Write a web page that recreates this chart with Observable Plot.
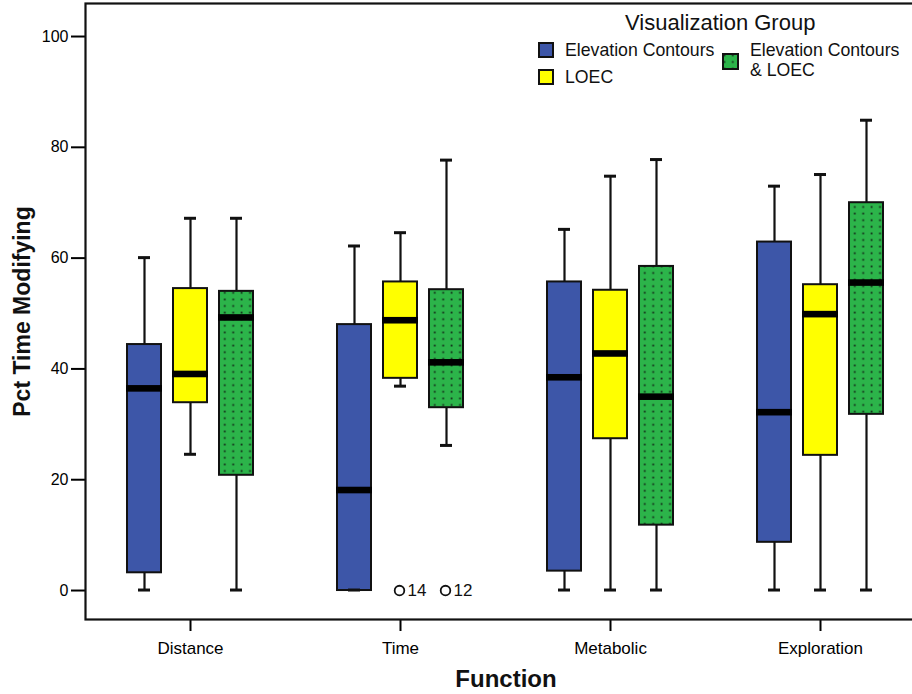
<!DOCTYPE html>
<html>
<head>
<meta charset="utf-8">
<script src="https://cdn.jsdelivr.net/npm/d3@7"></script>
<script src="https://cdn.jsdelivr.net/npm/@observablehq/plot@0.6"></script>
<style>
  html, body { margin: 0; padding: 0; background: white; overflow: hidden; }
  #wrap { position: relative; width: 912px; height: 694px; font-family: "Liberation Sans", Arial, sans-serif; }
  #legend { position: absolute; left: 0; top: 0; width: 912px; height: 100px; pointer-events: none; }
  .lg { position: absolute; color: #111; white-space: nowrap; }
  .sw { position: absolute; box-sizing: border-box; border: 2px solid #111; }
</style>
</head>
<body>
<svg width="0" height="0" style="position:absolute">
  <defs>
    <pattern id="dots" patternUnits="userSpaceOnUse" width="8.4" height="6.6">
      <rect width="8.4" height="6.6" fill="#2cb44a"></rect>
      <rect x="1.5" y="1.5" width="1.8" height="1.8" fill="#14301a"></rect>
    </pattern>
  </defs>
</svg>
<div id="wrap"></div>
<script>
// ---- data ----
const functions = ["Distance", "Time", "Metabolic", "Exploration"];
const groups = ["Elevation Contours", "LOEC", "Elevation Contours & LOEC"];
const groupFills = ["#3d56a8", "#ffff00", "url(#dots)"];
// rows: function; columns: group
const lowerWhisker = [[0, 24.5, 0], [0, 36.8, 26.1], [0, 0, 0], [0, 0, 0]];
const q1 = [[3.2, 33.9, 20.8], [0, 38.3, 33.0], [3.5, 27.4, 11.8], [8.7, 24.4, 31.8]];
const median = [[36.4, 39.0, 49.2], [18.05, 48.7, 41.1], [38.4, 42.7, 34.9], [32.1, 49.8, 55.5]];
const q3 = [[44.4, 54.5, 54.0], [48.0, 55.7, 54.3], [55.7, 54.2, 58.5], [62.9, 55.2, 70.0]];
const upperWhisker = [[60.0, 67.1, 67.1], [62.1, 64.5, 77.6], [65.1, 74.7, 77.7], [72.9, 75.0, 84.8]];
// outliers
const outlierFunction = ["Time", "Time"];
const outlierGroup = ["LOEC", "Elevation Contours & LOEC"];
const outlierValue = [0, 0];
const outlierCase = ["14", "12"];
const yTicks = [0, 20, 40, 60, 80, 100];

// ---- build ----
const groupOffset = 46;
const whiskerMarks = [], boxMarks = [], medianMarks = [], capMarks = [], outlierMarks = [];
groups.forEach((g, gi) => {
  const dx = (gi - 1) * groupOffset;
  const rows = functions.map((f, fi) => ({
    func: f, group: g,
    lo: lowerWhisker[fi][gi], q1: q1[fi][gi], med: median[fi][gi], q3: q3[fi][gi], hi: upperWhisker[fi][gi]
  }));
  whiskerMarks.push(Plot.ruleX(rows, {x: "func", y1: "lo", y2: "q1", dx, stroke: "#111", strokeWidth: 2.2}));
  whiskerMarks.push(Plot.ruleX(rows, {x: "func", y1: "q3", y2: "hi", dx, stroke: "#111", strokeWidth: 2.2}));
  capMarks.push(Plot.barY(rows, {x: "func", y1: "lo", y2: "lo", dx, fill: "#111", insetLeft: 99, insetRight: 99, insetTop: -1.5, insetBottom: -1.5}));
  capMarks.push(Plot.barY(rows, {x: "func", y1: "hi", y2: "hi", dx, fill: "#111", insetLeft: 99, insetRight: 99, insetTop: -1.5, insetBottom: -1.5}));
  boxMarks.push(Plot.barY(rows, {x: "func", y1: "q1", y2: "q3", dx, fill: groupFills[gi], stroke: "#111", strokeWidth: 2, insetLeft: 88, insetRight: 88}));
  medianMarks.push(Plot.barY(rows, {x: "func", y1: "med", y2: "med", dx, fill: "#000", insetLeft: 87, insetRight: 87, insetTop: -3.3, insetBottom: -3.3}));
  const outs = outlierValue.map((v, i) => ({func: outlierFunction[i], group: outlierGroup[i], value: v, label: outlierCase[i]}))
    .filter(d => d.group === g);
  if (outs.length) {
    outlierMarks.push(Plot.dot(outs, {x: "func", y: "value", dx: dx - 1, r: 4.8, fill: "white", stroke: "#111", strokeWidth: 1.8}));
    outlierMarks.push(Plot.text(outs, {x: "func", y: "value", text: "label", dx: dx + 7, textAnchor: "start", fontSize: 17, fill: "#111"}));
  }
});

const chart = Plot.plot({
  width: 912,
  height: 694,
  marginLeft: 85,
  marginRight: -6,
  marginTop: 3,
  marginBottom: 75,
  style: {fontFamily: "Liberation Sans, Arial, sans-serif", background: "white", overflow: "hidden"},
  x: {type: "band", domain: functions, range: [85, 925], padding: 0},
  y: {domain: [-5.23, 105.96]},
  marks: [
    Plot.axisY({ticks: yTicks, tickSize: 14, tickPadding: 3, fontSize: 16, strokeWidth: 2, label: null, tickFormat: d => String(d)}),
    Plot.axisX({tickSize: 12, tickPadding: 10, fontSize: 17, strokeWidth: 2, label: null}),
    ...whiskerMarks,
    ...boxMarks,
    ...medianMarks,
    ...capMarks,
    ...outlierMarks,
    Plot.frame({stroke: "#111", strokeWidth: 2.2}),
    Plot.text(["Function"], {frameAnchor: "bottom", dy: 60, dx: 4, fontSize: 24, fontWeight: "bold", fill: "#111", textAnchor: "middle", lineAnchor: "middle"}),
    Plot.text(["Pct Time Modifying"], {frameAnchor: "left", dx: -63, rotate: -90, fontSize: 23, fontWeight: "bold", fill: "#111", textAnchor: "middle", lineAnchor: "middle"})
  ]
});
const wrap = document.getElementById("wrap");
wrap.appendChild(chart);

// ---- legend (overlay) ----
const legend = document.createElement("div");
legend.id = "legend";
legend.innerHTML = `
  <div class="lg" style="left:625px; top:10px; font-size:22px;">Visualization Group</div>
  <div class="sw" style="left:538px; top:42px; width:16px; height:16px; background:${groupFills[0]};"></div>
  <div class="lg" style="left:565px; top:40px; font-size:17.7px;">${groups[0]}</div>
  <div class="sw" style="left:538px; top:69px; width:16px; height:16px; background:${groupFills[1]};"></div>
  <div class="lg" style="left:565px; top:67px; font-size:17.7px;">${groups[1]}</div>
  <svg style="position:absolute; left:722px; top:53px;" width="17" height="17"><rect x="1" y="1" width="15" height="15" fill="url(#dots)" stroke="#111" stroke-width="2"></rect></svg>
  <div class="lg" style="left:750px; top:40px; font-size:17.7px; line-height:20px;">Elevation Contours<br>&amp; LOEC</div>
`;
wrap.appendChild(legend);
</script>
</body>
</html>
